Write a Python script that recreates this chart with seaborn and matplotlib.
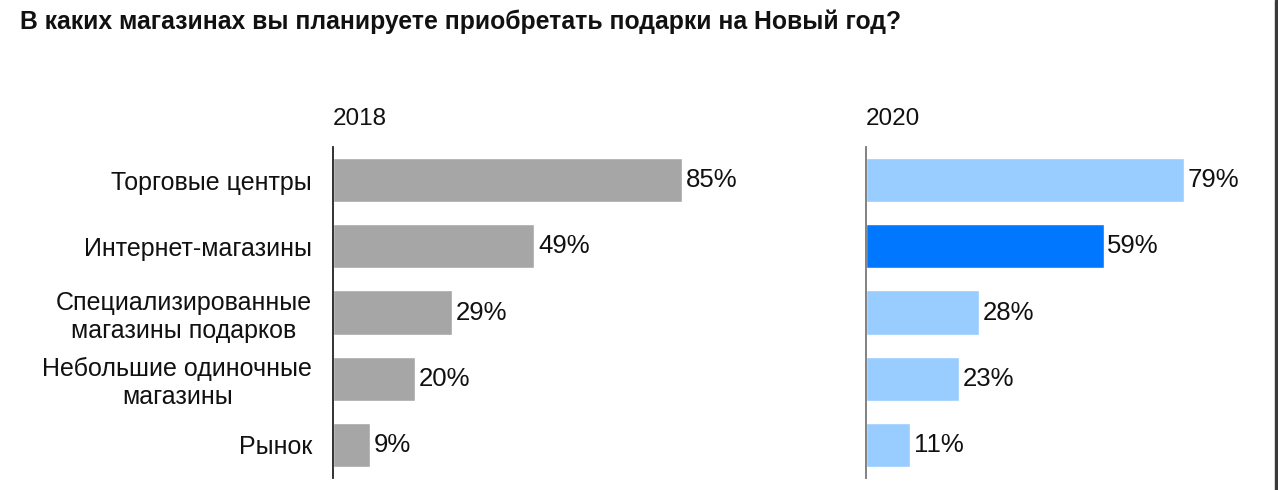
import pandas as pd
import matplotlib.pyplot as plt
import seaborn as sns
from matplotlib.patches import Rectangle

# data
categories = ['Торговые центры', 'Интернет-магазины',
              'Специализированные\nмагазины подарков',
              'Небольшие одиночные\nмагазины', 'Рынок']
values_2018 = [85, 49, 29, 20, 9]
values_2020 = [79, 59, 28, 23, 11]
years = ['2018', '2020']
colors_2018 = ['#a6a6a6'] * 5
colors_2020 = ['#99ccff', '#0077ff', '#99ccff', '#99ccff', '#99ccff']

df = pd.DataFrame({'Магазин': categories, '2018': values_2018, '2020': values_2020})

sns.set_theme(style='white')
plt.rcParams['font.family'] = ['Liberation Sans', 'DejaVu Sans']

fig = plt.figure(figsize=(12.78, 4.9), dpi=100)
ax1 = fig.add_axes([333 / 1278, 12 / 490, 411 / 1278, 331 / 490])
ax2 = fig.add_axes([866 / 1278, 12 / 490, 403 / 1278, 331 / 490])

for ax, year, colors, spine_color in [(ax1, '2018', colors_2018, '#222222'),
                                      (ax2, '2020', colors_2020, '#777777')]:
    sns.barplot(data=df, y='Магазин', x=year, hue='Магазин', palette=colors,
                legend=False, width=0.667, saturation=1, ax=ax, orient='h')
    ax.set_xlim(0, 100)
    ax.set_ylim(4.5, -0.5)
    ax.set_xlabel('')
    ax.set_ylabel('')
    ax.set_xticks([])
    for s in ['top', 'right', 'bottom']:
        ax.spines[s].set_visible(False)
    ax.spines['left'].set_color(spine_color)
    ax.spines['left'].set_linewidth(1.3)
    for i, v in enumerate(df[year]):
        ax.text(v + 0.9, i, f'{v}%', va='center', ha='left', fontsize=18.5, color='#111111')
    ax.text(0, -0.75, year, ha='left', va='bottom', fontsize=17.5, color='#111111')

ax1.tick_params(axis='y', length=0, pad=15, labelsize=18, labelcolor='#111111')
for lbl in ax1.get_yticklabels():
    lbl.set_multialignment('center')
ax2.set_yticks([])

fig.text(20 / 1278, 1 - 29 / 490, 'В каких магазинах вы планируете приобретать подарки на Новый год?',
         ha='left', va='baseline', fontsize=17.8, fontweight='bold', color='#111111')

# dark strip on the right edge of the screenshot
fig.patches.append(Rectangle((1275 / 1278, 0), 3 / 1278, 1, transform=fig.transFigure,
                             color='#3a3a3a', zorder=10))

fig.savefig('out.png', dpi=100)
